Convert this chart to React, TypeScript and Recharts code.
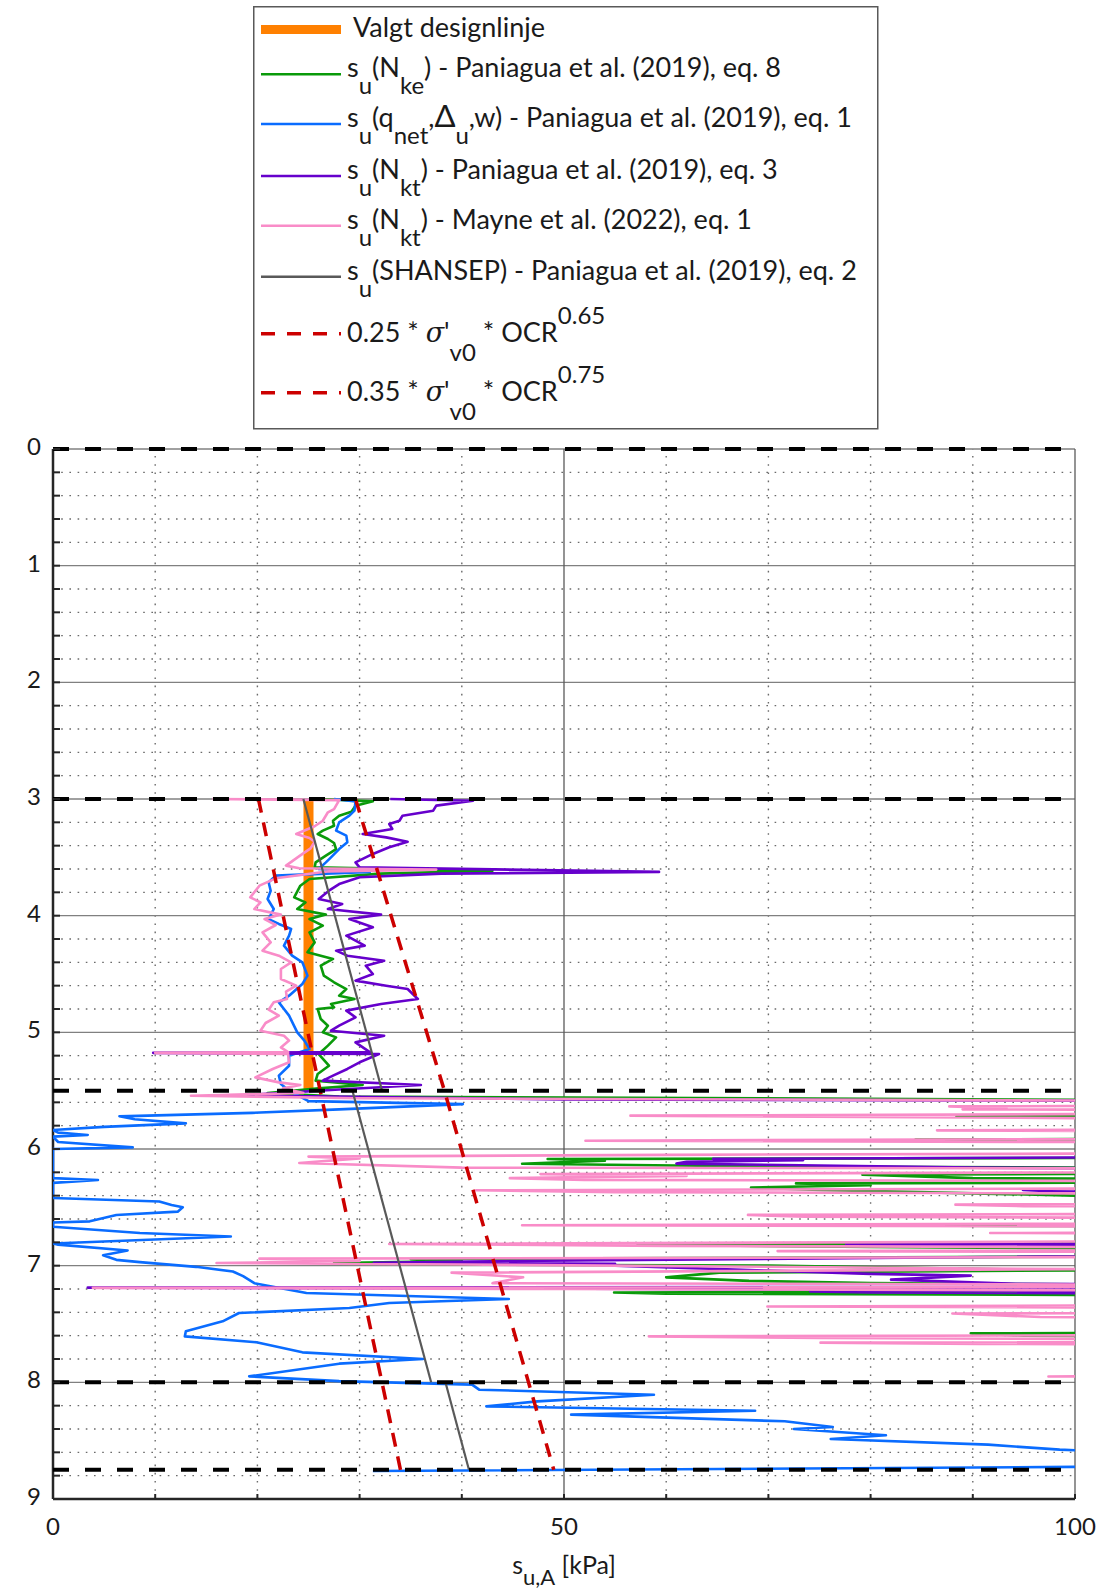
import React from 'react';
import { ScatterChart, Scatter, XAxis, YAxis, ReferenceLine, Legend } from 'recharts';

type P = [number, number]; // [depth (m), su (kPa)]

const yTicks = [0, 0.2, 0.4, 0.6, 0.8, 1, 1.2, 1.4, 1.6, 1.8, 2, 2.2, 2.4, 2.6, 2.8, 3, 3.2, 3.4, 3.6, 3.8, 4, 4.2, 4.4, 4.6, 4.8, 5, 5.2, 5.4, 5.6, 5.8, 6, 6.2, 6.4, 6.6, 6.8, 7, 7.2, 7.4, 7.6, 7.8, 8, 8.2, 8.4, 8.6, 8.8, 9];
const yMajor = [0, 1, 2, 3, 4, 5, 6, 7, 8];
const yMinor = yTicks.filter((t) => Math.abs(t - Math.round(t)) > 1e-6);
const xTicks = [0, 10, 20, 30, 40, 50, 60, 70, 80, 90, 100];
const xLabeled = [0, 50, 100];
const xMajor = [50, 100];
const xMinor = [10, 20, 30, 40, 60, 70, 80, 90];
const layerBounds = [0, 3, 5.5, 8, 8.75];

const designLine: P[] = [[3.0, 25], [5.5, 25]];

const nkePts: P[] = [
  [3.0, 26.0], [3.02, 31.3], [3.057, 29.6], [3.109, 29.2], [3.143, 28.0], [3.186, 27.4], [3.229, 27.5], [3.271, 26.4], [3.3, 25.9], [3.343, 26.9], [3.377, 27.5], [3.429, 27.7], [3.486, 26.7], [3.543, 25.7], [3.586, 25.6], [3.615, 43.0], [3.64, 32], [3.686, 25.1], [3.743, 24.2], [3.843, 23.6], [3.886, 24.7], [3.943, 23.9], [3.991, 26.7], [4.029, 25.1], [4.086, 26.4], [4.143, 25.1], [4.229, 25.6], [4.314, 24.9], [4.371, 27.4], [4.429, 26.2], [4.514, 26.5], [4.571, 27.5], [4.629, 28.7], [4.686, 28.0], [4.714, 29.5], [4.757, 27.2], [4.786, 27.5], [4.8, 25.9], [4.886, 26.2], [4.943, 26.9], [5.0, 26.4], [5.043, 27.7], [5.114, 26.9], [5.186, 26.0], [5.286, 27.0], [5.357, 25.9], [5.414, 25.7], [5.451, 30.3], [5.48, 26], [5.52, 21], [5.55, 28], [5.585, 120],
  [5.7, 140], [5.72, 88.4], [5.735, 140],
  [5.9, 140], [5.92, 84.4], [5.94, 140],
  [6.07, 140], [6.086, 48.4], [6.1, 54], [6.126, 45.9], [6.15, 70], [6.17, 140],
  [6.2, 140], [6.22, 79.2], [6.25, 90], [6.27, 140],
  [6.28, 140], [6.295, 72.7], [6.31, 80], [6.33, 68.3], [6.35, 75], [6.4, 100], [6.43, 140],
  [6.64, 140], [6.654, 75.5], [6.67, 140],
  [6.8, 140], [6.82, 57.2], [6.84, 80], [6.87, 140],
  [6.91, 140], [6.943, 35], [6.96, 40], [6.977, 27.5], [6.99, 40], [7.0, 70], [7.04, 100], [7.06, 65.2], [7.1, 60], [7.13, 68.1], [7.15, 80], [7.18, 140],
  [7.21, 140], [7.23, 54.9], [7.24, 60], [7.26, 140],
  [7.57, 140], [7.58, 89.8], [7.6, 95], [7.62, 140],
];

const qnetPts: P[] = [
  [3.0, 27.5], [3.02, 29.6], [3.1, 29.5], [3.143, 29.0], [3.2, 28.0], [3.271, 27.7], [3.314, 28.7], [3.371, 28.8], [3.429, 28.0], [3.5, 27.2], [3.543, 26.7], [3.6, 26.0], [3.625, 31.0], [3.657, 21.8], [3.714, 21.1], [3.786, 21.3], [3.857, 21.0], [3.943, 21.6], [4.029, 21.1], [4.071, 22.1], [4.114, 23.3], [4.171, 23.1], [4.257, 22.6], [4.343, 23.4], [4.4, 24.4], [4.514, 24.9], [4.586, 24.4], [4.686, 23.1], [4.743, 22.1], [4.8, 22.6], [4.857, 23.1], [5.0, 23.9], [5.071, 24.6], [5.143, 25.1], [5.2, 23.1], [5.286, 23.1], [5.371, 22.1], [5.443, 22.3], [5.5, 23.1], [5.59, 25], [5.615, 40.1], [5.66, 28], [5.69, 19.5], [5.72, 6.5], [5.745, 8], [5.78, 13.0], [5.81, 5], [5.837, 0], [5.86, 0.5], [5.88, 3.4], [5.894, 0], [5.94, 0.5], [5.986, 7.8], [6.0, 0], [6.25, 0], [6.266, 4.4], [6.29, 0], [6.42, 0], [6.45, 10.4], [6.48, 11.6], [6.5, 12.7], [6.537, 12.2], [6.566, 6.2], [6.62, 3.6], [6.63, 0], [6.666, 0], [6.72, 8.5], [6.75, 17.4], [6.81, 0], [6.82, 0.5], [6.87, 7.3], [6.91, 4.9], [6.95, 6.2], [6.97, 8.5], [7.01, 14.0], [7.05, 17.6], [7.09, 18.6], [7.15, 19.7], [7.234, 24.8], [7.286, 44.6], [7.32, 32.9], [7.363, 29.0], [7.406, 18.2], [7.477, 16.6], [7.563, 13.0], [7.606, 12.9], [7.657, 19.9], [7.743, 24.4], [7.8, 36.2], [7.84, 28.0], [7.949, 19.2], [7.99, 28.0], [8.02, 41.0], [8.063, 41.7], [8.106, 58.8], [8.163, 47.4], [8.206, 42.4], [8.243, 68.7], [8.277, 50.7], [8.334, 71.6], [8.383, 76.3], [8.4, 72.5], [8.454, 81.5], [8.486, 76.1], [8.534, 91.5], [8.577, 98.5], [8.6, 106], [8.65, 130], [8.7, 120], [8.725, 100], [8.76, 31.3],
];

const nktPanPts: P[] = [
  [3.0, 33.0], [3.015, 41.1], [3.057, 37.5], [3.1, 37.2], [3.143, 34.2], [3.186, 33.9], [3.214, 32.9], [3.257, 33.2], [3.3, 30.3], [3.329, 32.6], [3.366, 34.7], [3.414, 32.9], [3.471, 31.3], [3.543, 29.6], [3.586, 30.0], [3.625, 59.3], [3.64, 38], [3.671, 30.0], [3.729, 28.0], [3.786, 27.0], [3.857, 26.0], [3.9, 28.3], [3.943, 26.9], [3.991, 32.1], [4.029, 29.0], [4.1, 31.3], [4.171, 28.7], [4.257, 30.5], [4.3, 27.7], [4.343, 28.8], [4.386, 32.4], [4.429, 30.6], [4.5, 31.3], [4.557, 29.6], [4.6, 32.6], [4.629, 34.7], [4.714, 35.7], [4.757, 32.1], [4.814, 28.7], [4.871, 29.6], [4.943, 28.0], [4.986, 27.2], [5.029, 32.4], [5.086, 29.6], [5.17, 31.0], [5.176, 9.8], [5.186, 31.9], [5.257, 30.0], [5.314, 28.8], [5.371, 27.4], [5.414, 26.4], [5.451, 36.0], [5.49, 28], [5.54, 18.6], [5.575, 50], [5.59, 120],
  [6.06, 140], [6.085, 64.6], [6.095, 73.4], [6.11, 62], [6.125, 61], [6.16, 90], [6.18, 140],
  [6.33, 140], [6.35, 94.9], [6.36, 97], [6.38, 140],
  [6.8, 140], [6.82, 77.6], [6.84, 140],
  [6.89, 140], [6.96, 45], [6.975, 31.4], [6.985, 55], [7.0, 55], [7.07, 80], [7.085, 89.8], [7.12, 82], [7.155, 94.2], [7.17, 140],
  [7.18, 140], [7.188, 3.4], [7.195, 42], [7.2, 60], [7.215, 140], [7.222, 74.1], [7.23, 80], [7.25, 140],
];

const nktMaynePts: P[] = [
  [3.0, 15.6], [3.01, 28.0], [3.086, 27.5], [3.114, 26.9], [3.186, 26.4], [3.234, 25.6], [3.3, 23.8], [3.334, 25.1], [3.366, 25.6], [3.423, 25.2], [3.49, 24.1], [3.571, 22.8], [3.594, 24.1], [3.605, 37.5], [3.62, 27], [3.68, 21.8], [3.743, 20.2], [3.843, 19.3], [3.886, 20.3], [3.943, 19.7], [3.991, 22.3], [4.029, 20.7], [4.08, 21.8], [4.143, 20.5], [4.229, 21.3], [4.3, 20.5], [4.343, 22.1], [4.4, 23.3], [4.457, 22.3], [4.543, 22.3], [4.6, 23.8], [4.651, 22.8], [4.714, 22.9], [4.743, 21.6], [4.806, 21.1], [4.857, 22.1], [4.92, 20.8], [4.986, 20.3], [5.029, 22.6], [5.071, 23.1], [5.129, 22.3], [5.17, 23.0], [5.176, 10.0], [5.185, 23.0], [5.257, 23.1], [5.314, 21.5], [5.386, 19.8], [5.429, 22.1], [5.451, 24.2], [5.48, 22.5], [5.52, 24.5], [5.543, 13.5], [5.565, 30], [5.59, 120],
  [5.62, 140], [5.635, 87.7], [5.65, 93.3], [5.66, 89], [5.67, 140],
  [5.69, 140], [5.714, 56.5], [5.755, 140],
  [5.82, 140], [5.84, 86.5], [5.86, 140],
  [5.905, 140], [5.929, 52.1], [5.95, 140],
  [6.03, 140], [6.05, 60], [6.065, 25.0], [6.08, 30], [6.12, 24.1], [6.16, 40], [6.17, 140],
  [6.19, 140], [6.215, 47.7], [6.23, 62], [6.25, 44.7], [6.265, 52], [6.28, 140],
  [6.33, 140], [6.354, 41.4], [6.37, 55], [6.39, 140],
  [6.46, 140], [6.477, 88.3], [6.49, 95], [6.5, 140],
  [6.55, 140], [6.565, 68], [6.58, 73.6], [6.6, 140],
  [6.63, 140], [6.654, 45.9], [6.67, 140],
  [6.71, 140], [6.72, 91.7], [6.73, 140],
  [6.78, 140], [6.814, 32.9], [6.83, 60], [6.85, 140],
  [6.86, 140], [6.875, 70.9], [6.89, 140],
  [6.92, 140], [6.94, 20.2], [6.96, 30], [6.977, 16.0], [6.99, 40], [7.03, 100], [7.06, 39], [7.1, 46], [7.15, 43], [7.17, 140],
  [7.18, 140], [7.19, 3.9], [7.2, 50], [7.22, 140],
  [7.33, 140], [7.35, 69.9], [7.37, 140],
  [7.4, 140], [7.41, 88], [7.44, 96.6], [7.46, 140],
  [7.59, 140], [7.606, 58.3], [7.62, 75], [7.64, 140],
  [7.65, 140], [7.66, 75.1], [7.67, 90.7], [7.69, 140],
  [7.93, 140], [7.95, 97.4], [7.96, 140],
];

const shansepUpper: P[] = [[3.0, 24.5], [5.5, 32.2]];
const shansepMid: P[] = [[5.5, 29.3], [8.0, 37.0]];
const shansepLower: P[] = [[8.0, 38.4], [8.75, 40.7]];

const red065: P[] = [[3.0, 20.1], [8.75, 34.0]];
const red075: P[] = [[3.0, 29.6], [5.5, 38.3], [8.75, 49.0]];

const toData = (pts: P[]) => pts.map(([d, s]) => ({ x: s, y: d }));

const C = {
  orange: '#FF8000',
  green: '#0A9A0A',
  blue: '#0A6CFF',
  purple: '#6600CC',
  pink: '#F98CC8',
  gray: '#595959',
  red: '#CC0000',
  text: '#1a1a1a',
};

const FONT = 'Lato, "Open Sans", sans-serif';

const NoShape = () => null;

const YTick = (props: any) => {
  const { x, y, payload } = props;
  const v = payload.value;
  const isInt = Math.abs(v - Math.round(v)) < 1e-6;
  return (
    <g>
      <line x1={x} x2={x + 7} y1={y} y2={y} stroke="#262626" strokeWidth={2} />
      {isInt && (
        <text x={x - 19} y={y + 6} textAnchor="middle" fontFamily={FONT} fontSize={24} fill={C.text}>
          {Math.round(v)}
        </text>
      )}
    </g>
  );
};

const XTick = (props: any) => {
  const { x, y, payload } = props;
  const v = payload.value;
  return (
    <g>
      <line x1={x} x2={x} y1={y} y2={y - 5} stroke="#262626" strokeWidth={2} />
      {xLabeled.includes(v) && (
        <text x={x} y={y + 36} textAnchor="middle" fontFamily={FONT} fontSize={24} fill={C.text}>
          {v}
        </text>
      )}
    </g>
  );
};

const XTitle = (props: any) => {
  const vb = props.viewBox || { x: 53, y: 1499, width: 1022, height: 97 };
  const cx = vb.x + vb.width / 2;
  const by = vb.y + 75;
  return (
    <text x={cx} y={by} textAnchor="middle" fontFamily={FONT} fontSize={25} fill={C.text}>
      s
      <tspan dy={11} fontSize={22}>u,A</tspan>
      <tspan dy={-11}> [kPa]</tspan>
    </text>
  );
};

const SUB = 17;
const subSize = 24;
const mainSize = 27;

const LegendBox = () => {
  const sx1 = 8;
  const sx2 = 88;
  const tx = 94;
  const rows = [23.5, 68.3, 118.1, 170, 219.8, 270.7, 327.7, 386.7];
  const sub = (t: string) => <tspan dy={SUB} fontSize={subSize}>{t}</tspan>;
  return (
    <svg width={626} height={424} style={{ display: 'block', overflow: 'visible' }}>
      <rect x={0.75} y={0.75} width={624} height={422} fill="#fff" stroke="#595959" strokeWidth={1.5} />
      <line x1={sx1} x2={sx2} y1={rows[0]} y2={rows[0]} stroke={C.orange} strokeWidth={9} />
      <text x={100} y={rows[0] + 7} fontFamily={FONT} fontSize={mainSize} fill={C.text}>Valgt designlinje</text>

      <line x1={sx1} x2={sx2} y1={rows[1]} y2={rows[1]} stroke={C.green} strokeWidth={2.5} />
      <text x={tx} y={rows[1] + 3} fontFamily={FONT} fontSize={mainSize} fill={C.text}>
        s{sub('u')}<tspan dy={-SUB}>(N</tspan>{sub('ke')}<tspan dy={-SUB}>) - Paniagua et al. (2019), eq. 8</tspan>
      </text>

      <line x1={sx1} x2={sx2} y1={rows[2]} y2={rows[2]} stroke={C.blue} strokeWidth={2.5} />
      <text x={tx} y={rows[2] + 3} fontFamily={FONT} fontSize={mainSize} fill={C.text}>
        s{sub('u')}<tspan dy={-SUB}>(q</tspan>{sub('net')}<tspan dy={-SUB}>,</tspan><tspan fontSize={31}>Δ</tspan>{sub('u')}<tspan dy={-SUB}>,w) - Paniagua et al. (2019), eq. 1</tspan>
      </text>

      <line x1={sx1} x2={sx2} y1={rows[3]} y2={rows[3]} stroke={C.purple} strokeWidth={2.5} />
      <text x={tx} y={rows[3] + 3} fontFamily={FONT} fontSize={mainSize} fill={C.text}>
        s{sub('u')}<tspan dy={-SUB}>(N</tspan>{sub('kt')}<tspan dy={-SUB}>) - Paniagua et al. (2019), eq. 3</tspan>
      </text>

      <line x1={sx1} x2={sx2} y1={rows[4]} y2={rows[4]} stroke={C.pink} strokeWidth={2.5} />
      <text x={tx} y={rows[4] + 3} fontFamily={FONT} fontSize={mainSize} fill={C.text}>
        s{sub('u')}<tspan dy={-SUB}>(N</tspan>{sub('kt')}<tspan dy={-SUB}>) - Mayne et al. (2022), eq. 1</tspan>
      </text>

      <line x1={sx1} x2={sx2} y1={rows[5]} y2={rows[5]} stroke={C.gray} strokeWidth={2.5} />
      <text x={tx} y={rows[5] + 3} fontFamily={FONT} fontSize={mainSize} fill={C.text}>
        s{sub('u')}<tspan dy={-SUB}>(SHANSEP) - Paniagua et al. (2019), eq. 2</tspan>
      </text>

      <line x1={sx1} x2={sx2} y1={rows[6]} y2={rows[6]} stroke={C.red} strokeWidth={3.5} strokeDasharray="14 12" />
      <text x={tx} y={rows[6] + 8} fontFamily={FONT} fontSize={mainSize} fill={C.text}>
        0.25 * <tspan fontFamily="DejaVu Serif" fontStyle="italic">σ</tspan>'
        <tspan dy={19} fontSize={subSize}>v0</tspan>
        <tspan dy={-19}> * OCR</tspan>
        <tspan dy={-18} fontSize={subSize}>0.65</tspan>
      </text>

      <line x1={sx1} x2={sx2} y1={rows[7]} y2={rows[7]} stroke={C.red} strokeWidth={3.5} strokeDasharray="14 12" />
      <text x={tx} y={rows[7] + 8} fontFamily={FONT} fontSize={mainSize} fill={C.text}>
        0.35 * <tspan fontFamily="DejaVu Serif" fontStyle="italic">σ</tspan>'
        <tspan dy={19} fontSize={subSize}>v0</tspan>
        <tspan dy={-19}> * OCR</tspan>
        <tspan dy={-18} fontSize={subSize}>0.75</tspan>
      </text>
    </svg>
  );
};

const series = [
  { name: 'design', pts: designLine, color: C.orange, width: 10, dash: undefined },
  { name: 'nke', pts: nkePts, color: C.green, width: 2.6, dash: undefined },
  { name: 'qnet', pts: qnetPts, color: C.blue, width: 2.6, dash: undefined },
  { name: 'nktPan', pts: nktPanPts, color: C.purple, width: 2.6, dash: undefined },
  { name: 'nktMayne', pts: nktMaynePts, color: C.pink, width: 2.6, dash: undefined },
  { name: 'shansepA', pts: shansepUpper, color: C.gray, width: 2.2, dash: undefined },
  { name: 'shansepB', pts: shansepMid, color: C.gray, width: 2.2, dash: undefined },
  { name: 'shansepC', pts: shansepLower, color: C.gray, width: 2.2, dash: undefined },
  { name: 'red065', pts: red065, color: C.red, width: 3.5, dash: '14 10' },
  { name: 'red075', pts: red075, color: C.red, width: 3.5, dash: '14 10' },
];

export default function App() {
  return (
    <div style={{ position: 'absolute', left: 0, top: 0, width: 1113, height: 1596, background: '#fff' }}>
      <ScatterChart width={1113} height={1596} margin={{ top: 449, right: 38, bottom: 0, left: 0 }}>
        <XAxis
          xAxisId="a"
          type="number"
          dataKey="x"
          domain={[0, 100]}
          allowDataOverflow
          ticks={xTicks}
          interval={0}
          height={97}
          tickSize={0}
          tickMargin={0}
          tickLine={false}
          tick={(p: any) => <XTick {...p} />}
          axisLine={{ stroke: '#262626', strokeWidth: 2.5 }}
          label={{ content: (p: any) => <XTitle {...p} /> }}
        />
        <XAxis xAxisId="b" type="number" dataKey="x" domain={[0, 100]} hide />
        <YAxis
          type="number"
          dataKey="y"
          domain={[0, 9]}
          reversed
          ticks={yTicks}
          interval={0}
          width={53}
          tickSize={0}
          tickMargin={0}
          tickLine={false}
          tick={(p: any) => <YTick {...p} />}
          axisLine={{ stroke: '#262626', strokeWidth: 2.5 }}
        />
        {yMinor.map((v) => (
          <ReferenceLine key={`ym${v}`} xAxisId="a" y={v} stroke="#6b6b6b" strokeWidth={1.4} strokeDasharray="1.6 6.6" />
        ))}
        {xMinor.map((v) => (
          <ReferenceLine key={`xm${v}`} xAxisId="a" x={v} stroke="#6b6b6b" strokeWidth={1.4} strokeDasharray="1.6 6.6" />
        ))}
        {yMajor.map((v) => (
          <ReferenceLine key={`yM${v}`} xAxisId="a" y={v} stroke="#808080" strokeWidth={1.3} />
        ))}
        {xMajor.map((v) => (
          <ReferenceLine key={`xM${v}`} xAxisId="a" x={v} stroke="#5a5a5a" strokeWidth={1.3} />
        ))}
        {series.map((s) => (
          <Scatter
            key={s.name}
            xAxisId="a"
            data={toData(s.pts)}
            line={{ stroke: s.color, strokeWidth: s.width, strokeDasharray: s.dash, strokeLinejoin: 'round' }}
            lineType="joint"
            shape={NoShape as any}
            fill={s.color}
            isAnimationActive={false}
          />
        ))}
        {layerBounds.map((d) => (
          <Scatter
            key={`b${d}`}
            xAxisId="b"
            data={toData([[d, 0], [d, 100]])}
            line={{ stroke: '#000', strokeWidth: 4, strokeDasharray: '16 16' }}
            lineType="joint"
            shape={NoShape as any}
            fill="#000"
            isAnimationActive={false}
          />
        ))}
        <Legend
          layout="vertical"
          align="center"
          verticalAlign="middle"
          content={() => <LegendBox />}
          wrapperStyle={{ position: 'absolute', left: 253, top: 6, width: 626, height: 424 }}
        />
      </ScatterChart>
    </div>
  );
}
